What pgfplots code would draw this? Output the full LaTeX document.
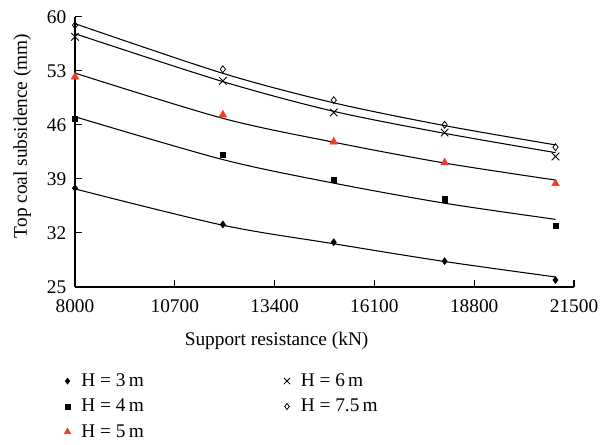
\documentclass[border=0pt]{standalone}
\usepackage{pgfplots}
\pgfplotsset{compat=1.18}
\usepackage{fontspec}
\setmainfont{Liberation Serif}
\definecolor{tri}{RGB}{236,62,36}
\begin{document}
\begin{tikzpicture}
\begin{axis}[
  at={(0,0)}, anchor=south west,
  scale only axis, width=374.25pt, height=202.7pt,
  xmin=8000, xmax=21500, ymin=25, ymax=60,
  clip=false,
  axis lines=left, axis line style={-, line width=0.8pt},
  xtick={8000,10700,13400,16100,18800,21500},
  ytick={25,32,39,46,53,60},
  tick align=inside, major tick length=5pt,
  tick style={black, line width=0.8pt},
  scaled x ticks=false,
  /pgf/number format/1000 sep={},
  /pgf/number format/assume math mode=true,
  tick label style={font=\fontsize{14.5}{17}\selectfont},
  x tick label style={yshift=-6pt},
  y tick label style={xshift=-3pt},
  label style={font=\fontsize{14.5}{17}\selectfont},
  xlabel={Support resistance (kN)},
  ylabel={Top coal subsidence (mm)},
  xlabel style={at={(axis description cs:0.404,-0.2)}, anchor=center},
  ylabel style={at={(axis description cs:-0.106,0.559)}, anchor=center},
  legend columns=2,
  legend cell align=left,
  legend style={draw=none, fill=none, font=\fontsize{14.5}{17}\selectfont,
    at={(axis description cs:-0.03,-0.30)}, anchor=north west,
    /tikz/row sep=4pt,
    /tikz/column 1/.style={column sep=6pt},
    /tikz/column 3/.style={column sep=6pt},
    /tikz/column 2/.style={column sep=103pt}},
]
% fitted curves
\addplot[black, line width=0.8pt, smooth, forget plot] coordinates {(8000,37.7) (12000,33.0) (15000,30.6) (18000,28.3) (21000,26.3)};
\addplot[black, line width=0.8pt, smooth, forget plot] coordinates {(8000,47.05) (12000,41.5) (15000,38.45) (18000,35.85) (21000,33.76)};
\addplot[black, line width=0.8pt, smooth, forget plot] coordinates {(8000,52.7) (12000,46.84) (15000,43.75) (18000,41.05) (21000,38.85)};
\addplot[black, line width=0.8pt, smooth, forget plot] coordinates {(8000,57.8) (12000,51.6) (15000,47.75) (18000,44.9) (21000,42.4)};
\addplot[black, line width=0.8pt, smooth, forget plot] coordinates {(8000,59.1) (12000,52.67) (15000,48.85) (18000,45.9) (21000,43.4)};
% markers
\addplot[only marks, mark=diamond*, mark size=2.6pt, black, forget plot] coordinates {(8000,37.8) (12000,33.1) (15000,30.8) (18000,28.35) (21000,25.9)};
\addplot[only marks, mark=square*, mark size=2pt, black, forget plot] coordinates {(8000,46.8) (12000,42.15) (15000,38.9) (18000,36.35) (21000,32.9)};
\addplot[only marks, mark=triangle*, mark size=3.3pt, tri, forget plot] coordinates {(8000,52.2) (12000,47.3) (15000,43.8) (18000,41.1) (21000,38.4)};
\addplot[only marks, mark=x, mark size=4pt, black, line width=0.7pt, forget plot] coordinates {(8000,57.4) (12000,51.7) (15000,47.6) (18000,45.0) (21000,41.9)};
\addplot[only marks, mark=diamond, mark size=2.6pt, black, line width=0.6pt, mark options={fill=white}, forget plot] coordinates {(8000,58.9) (12000,53.2) (15000,49.2) (18000,46.0) (21000,43.1)};
% legend
\addlegendimage{only marks, mark=diamond*, mark size=2.3pt, black}
\addlegendentry{H = 3\,m}
\addlegendimage{only marks, mark=x, mark size=3.3pt, black, line width=0.7pt}
\addlegendentry{H = 6\,m}
\addlegendimage{only marks, mark=square*, mark size=1.8pt, black}
\addlegendentry{H = 4\,m}
\addlegendimage{only marks, mark=diamond, mark size=2.3pt, black, line width=0.6pt}
\addlegendentry{H = 7.5\,m}
\addlegendimage{only marks, mark=triangle*, mark size=2.8pt, tri}
\addlegendentry{H = 5\,m}
\end{axis}
\pgfresetboundingbox
\path (-56.25pt,-118.5pt) rectangle (403.5pt,215.25pt);
\end{tikzpicture}
\end{document}
